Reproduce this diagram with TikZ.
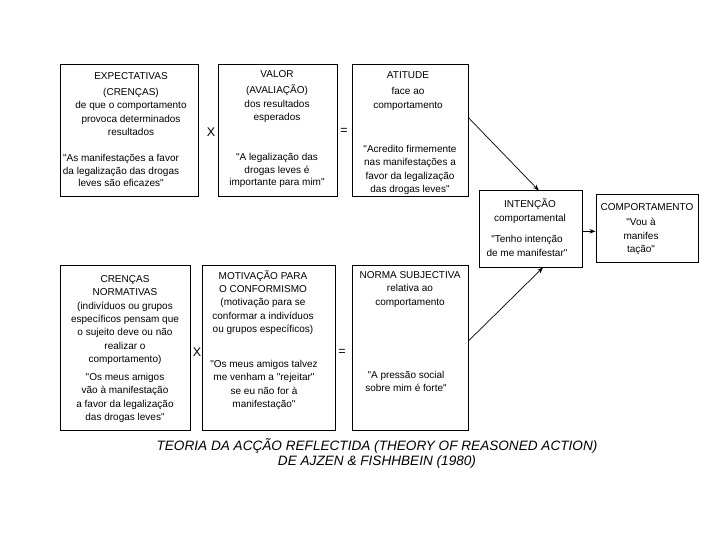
\documentclass[tikz,border=0pt]{standalone}
\usepackage{fontspec}
\setmainfont{Liberation Sans}[Ligatures=TeXOff]
\usetikzlibrary{calc,arrows.meta}
\begin{document}
\begin{tikzpicture}[x=1pt,y=-1pt,
  box/.style={draw=black,line width=1pt,inner sep=0,rectangle},
  txt/.style={font=\fontsize{10}{13.3}\selectfont,align=center,inner sep=0},
  opsign/.style={font=\fontsize{12.5}{14}\selectfont,inner sep=0},
  arr/.style={line width=0.7pt,-{Stealth[length=6pt,width=4.5pt]}},
  captiontext/.style={font=\fontsize{13.6}{15.5}\selectfont\itshape,align=center,inner sep=0}]
\useasboundingbox (0,0) rectangle (720,540);
% top row
\node[box,minimum width=138pt,minimum height=132pt] (exp) at (129,131) {};
\node[box,minimum width=119pt,minimum height=132pt] (val) at (277.5,131) {};
\node[box,minimum width=116pt,minimum height=132pt] (att) at (410,131) {};
\node[txt] (exp-h) at (131,104) {EXPECTATIVAS\\[3pt](CRENÇAS)\\de que o comportamento\\provoca determinados\\resultados};
\node[txt,font=\fontsize{10}{12.7}\selectfont] (exp-q) at (121,170.5) {"As manifestações a favor\\da legalização das drogas\\leves são eficazes"};
\node[txt] (val-h) at (277,96.5) {VALOR\\[3pt](AVALIAÇÃO)\\dos resultados\\esperados};
\node[txt,font=\fontsize{10}{12.7}\selectfont] (val-q) at (277,170.5) {"A legalização das\\drogas leves é\\importante para mim"};
\node[txt] (att-h) at (408,91) {ATITUDE\\[3pt]face ao\\comportamento};
\node[txt] (att-q) at (410,170) {"Acredito firmemente\\nas manifestações a\\favor da legalização\\das drogas leves"};
\node[opsign] (x1) at (211,132) {X};
\node[opsign] (eq1) at (344,131) {=};
% bottom row
\node[box,minimum width=130pt,minimum height=165pt] (cren) at (125,347.5) {};
\node[box,minimum width=133pt,minimum height=165pt] (mot) at (268.5,347.5) {};
\node[box,minimum width=116pt,minimum height=165pt] (norm) at (410,347.5) {};
\node[txt] (cren-h) at (125,320) {CRENÇAS\\NORMATIVAS\\(indivíduos ou grupos\\específicos pensam que\\o sujeito deve ou não\\realizar o\\comportamento)};
\node[txt] (cren-q) at (125,398) {"Os meus amigos\\vão à manifestação\\a favor da legalização\\das drogas leves"};
\node[txt] (mot-h) at (263,302.5) {MOTIVAÇÃO PARA\\O CONFORMISMO\\(motivação para se\\conformar a indivíduos\\ou grupos específicos)};
\node[txt] (mot-q) at (264,385) {"Os meus amigos talvez\\me venham a "rejeitar"\\se eu não for à\\manifestação"};
\node[txt] (norm-h) at (410,289.5) {NORMA SUBJECTIVA\\relativa ao\\comportamento};
\node[txt] (norm-q) at (406,381.5) {"A pressão social\\sobre mim é forte"};
\node[opsign] (x2) at (197,352) {X};
\node[opsign] (eq2) at (342,352) {=};
% intention and behaviour
\node[box,minimum width=103pt,minimum height=76pt] (int) at (530.5,229) {};
\node[box,minimum width=102pt,minimum height=67pt] (beh) at (647,228.5) {};
\node[txt] (int-h) at (530,211) {INTENÇÃO\\comportamental};
\node[txt] (int-q) at (527,246) {"Tenho intenção\\de me manifestar"};
\node[txt] (beh-h) at (647,207) {COMPORTAMENTO};
\node[txt] (beh-q) at (641,236.5) {"Vou à\\manifes\\tação"};
% arrows
\coordinate (a1s) at ($(att.north east)!0.4!(att.south east)$);
\coordinate (a1e) at ($(int.north west)!0.58!(int.north east)$);
\coordinate (a2s) at ($(norm.north east)!0.46!(norm.south east)$);
\coordinate (a2e) at ($(int.south west)!0.62!(int.south east)$);
\coordinate (a3s) at ($(int.north east)!0.53!(int.south east)$);
\draw[arr] (a1s) -- (a1e);
\draw[arr] (a2s) -- (a2e);
\draw[arr] (a3s) -- (beh.west |- a3s);
% caption
\node[captiontext] (caption) at (377,453.5) {TEORIA DA ACÇÃO REFLECTIDA (THEORY OF REASONED ACTION)\\DE AJZEN \& FISHHBEIN (1980)};
\end{tikzpicture}
\end{document}
